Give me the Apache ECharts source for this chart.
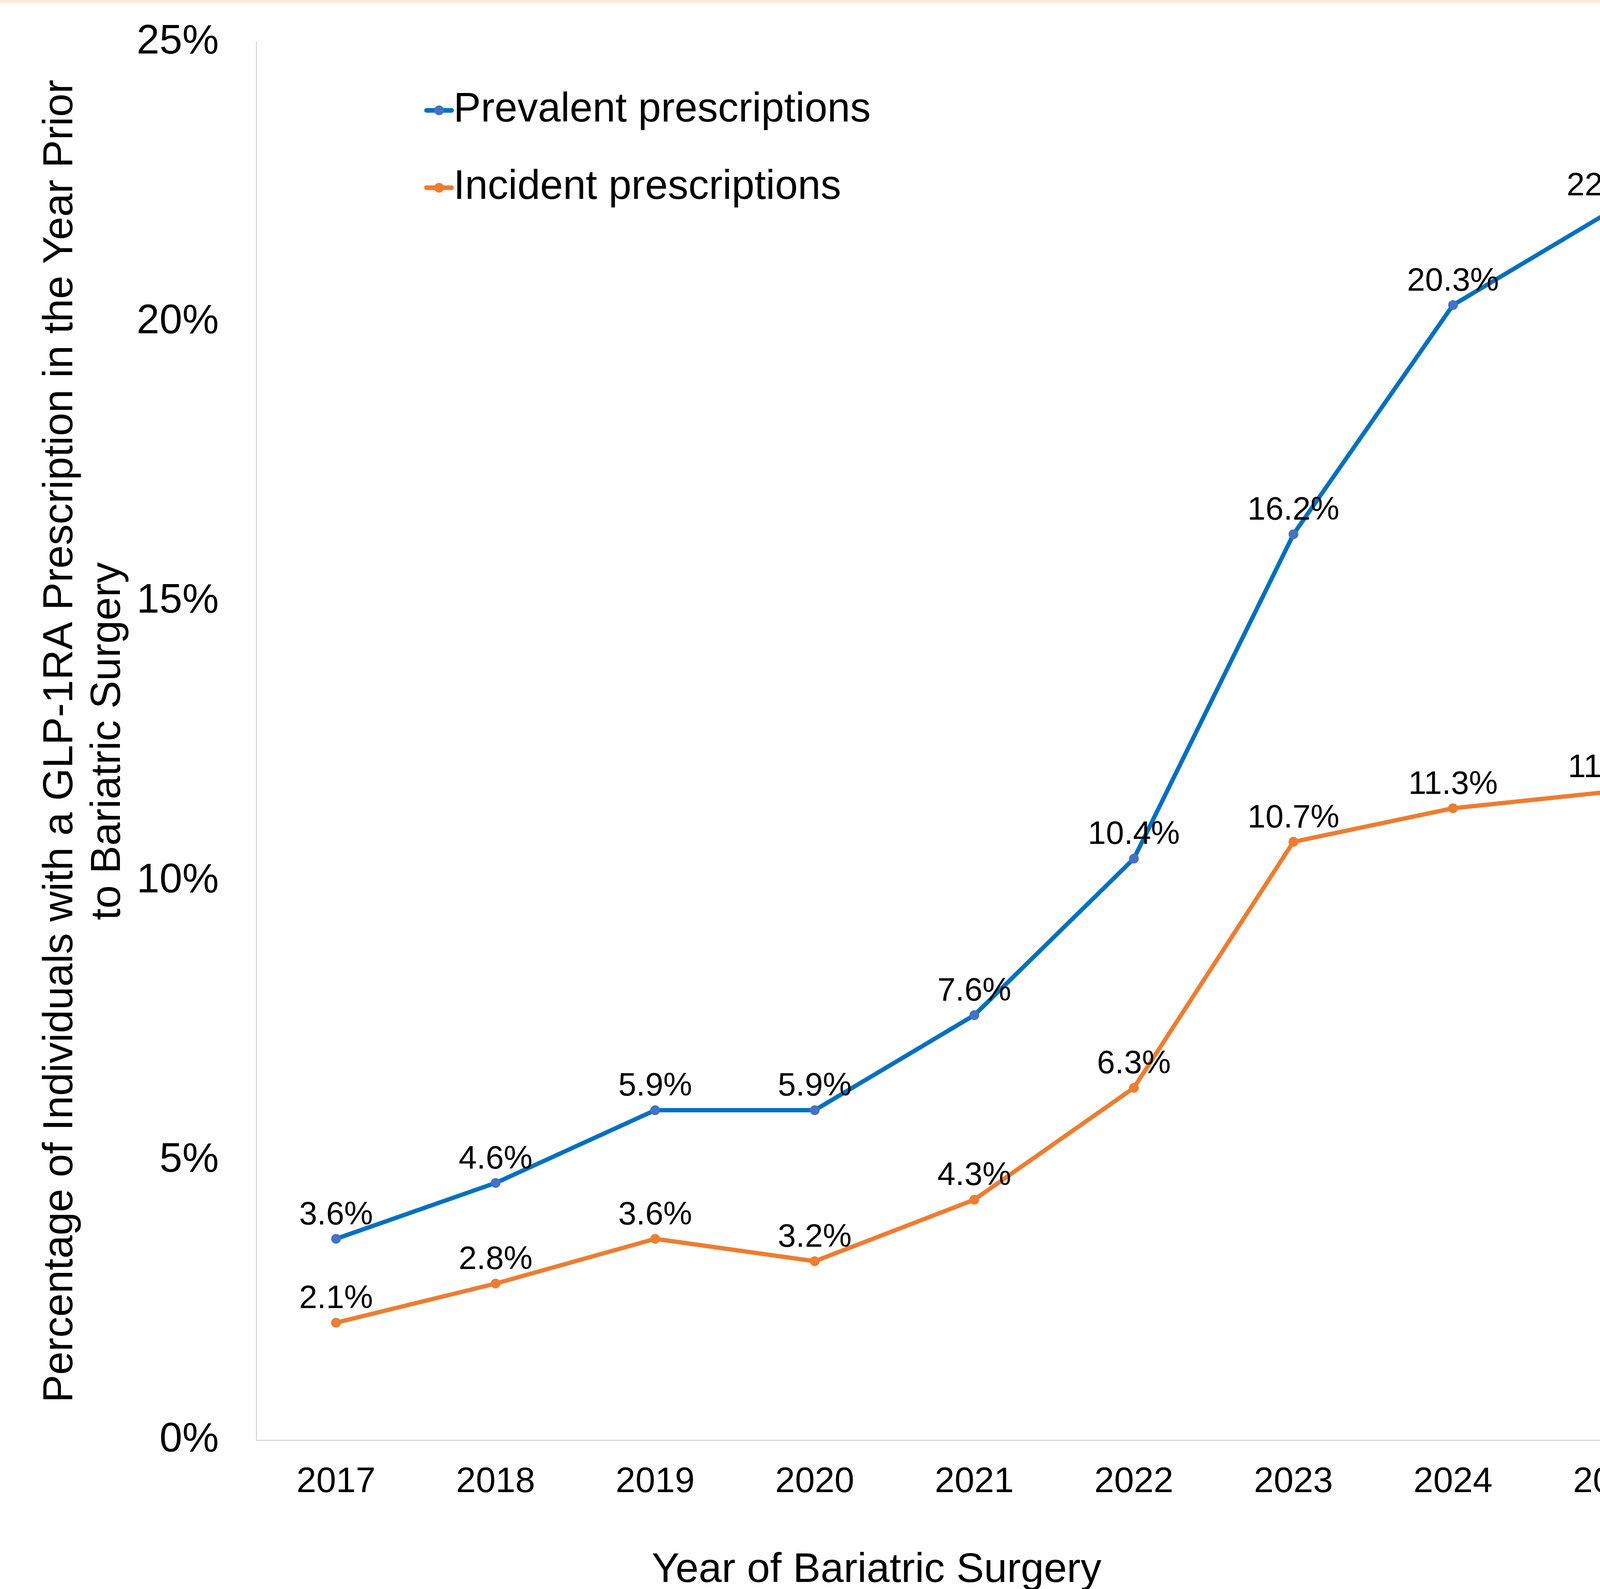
<!DOCTYPE html>
<html>
<head>
<meta charset="utf-8">
<script src="https://cdn.jsdelivr.net/npm/echarts@6/dist/echarts.min.js"></script>
<style>
html,body{margin:0;padding:0;background:#fff;}
#chart{width:4270px;height:4067px;}
</style>
</head>
<body>
<div id="chart"></div>
<script>
const years = ['2017','2018','2019','2020','2021','2022','2023','2024','2025'];
const prevalent = [3.6, 4.6, 5.9, 5.9, 7.6, 10.4, 16.2, 20.3, 22.0];
const incident = [2.1, 2.8, 3.6, 3.2, 4.3, 6.3, 10.7, 11.3, 11.6];
const seriesNames = ['Prevalent prescriptions', 'Incident prescriptions'];
const yTitle = 'Percentage of Individuals with a GLP-1RA Prescription in the Year Prior\nto Bariatric Surgery';
const xTitle = 'Year of Bariatric Surgery';

const FONT = '"Liberation Sans", Arial, sans-serif';
const chart = echarts.init(document.getElementById('chart'), null, {renderer: 'canvas', devicePixelRatio: 1});

function lineSeries(name, data, lineColor, markColor) {
  return {
    name: name,
    type: 'line',
    data: data,
    symbol: 'circle',
    symbolSize: 25,
    lineStyle: {color: lineColor, width: 11},
    itemStyle: {color: markColor},
    label: {
      show: true,
      position: 'top',
      distance: 6,
      color: '#000',
      fontFamily: FONT,
      fontSize: 83,
      formatter: p => p.value.toFixed(1) + '%'
    },
    emphasis: {disabled: true},
    animation: false
  };
}

chart.setOption({
  animation: false,
  backgroundColor: '#ffffff',
  textStyle: {fontFamily: FONT},
  graphic: [
    {type: 'rect', left: 0, top: 0, shape: {width: 4270, height: 7}, style: {fill: '#FCE8DA'}, silent: true},
    {type: 'text', x: 2244, y: 4020, style: {text: xTitle, fill: '#000', font: '106px ' + FONT, textAlign: 'center', textVerticalAlign: 'middle'}, silent: true}
  ],
  legend: {
    orient: 'vertical',
    left: 1081,
    top: 225,
    itemWidth: 64,
    itemHeight: 31,
    itemGap: 93,
    data: seriesNames,
    lineStyle: {width: 12, cap: 'round'},
    textStyle: {fontFamily: FONT, fontSize: 105, color: '#000'},
    selectedMode: false
  },
  grid: {left: 656, top: 108, width: 3676.5, height: 3578, containLabel: false, outerBoundsMode: 'none'},
  xAxis: {
    type: 'category',
    data: years,
    boundaryGap: true,
    axisLine: {show: true, lineStyle: {color: '#D9D9D9', width: 3}},
    axisTick: {show: false},
    splitLine: {show: false},
    axisLabel: {color: '#000', fontFamily: FONT, fontSize: 91, margin: 62}
  },
  yAxis: {
    type: 'value',
    min: 0,
    max: 25,
    interval: 5,
    axisLine: {show: true, lineStyle: {color: '#D9D9D9', width: 3}},
    axisTick: {show: false},
    splitLine: {show: false},
    axisLabel: {color: '#000', fontFamily: FONT, fontSize: 105, margin: 96, formatter: '{value}%'},
    name: yTitle,
    nameLocation: 'middle',
    nameGap: 288,
    nameTextStyle: {color: '#000', fontFamily: FONT, fontSize: 107, lineHeight: 122, align: 'center'}
  },
  series: [
    lineSeries(seriesNames[0], prevalent, '#0070C0', '#4472C4'),
    lineSeries(seriesNames[1], incident, '#ED7D31', '#ED7D31')
  ]
});
</script>
</body>
</html>
